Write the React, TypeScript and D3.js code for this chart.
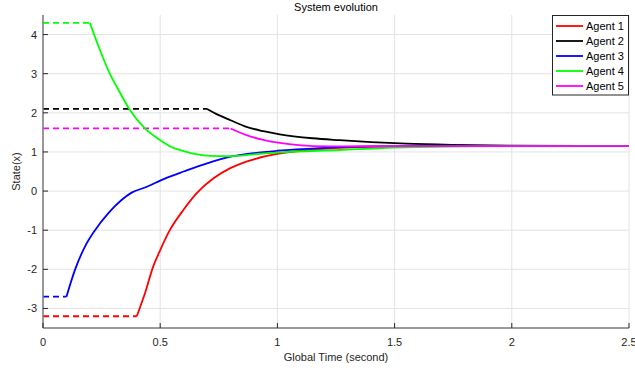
import React, { useEffect, useRef } from "react";
import * as d3 from "d3";

const agentNames = ["Agent 1", "Agent 2", "Agent 3", "Agent 4", "Agent 5"];
const agentColors = ["#ff0000", "#000000", "#0000ff", "#00ff00", "#ff00ff"];
const initialValues = [-3.2, 2.1, -2.7, 4.3, 1.6];
const startTimes = [0.4, 0.7, 0.1, 0.2, 0.8];

const agent1: [number, number][] = [
  [0.4, -3.2], [0.435, -2.61], [0.47, -1.93], [0.5, -1.51], [0.541, -1.0], [0.598, -0.49],
  [0.655, -0.06], [0.726, 0.32], [0.797, 0.58], [0.839, 0.69], [0.9, 0.81], [0.95, 0.89],
  [1.0, 0.95], [1.1, 1.03], [1.2, 1.08], [1.4, 1.13], [1.7, 1.15], [2.5, 1.15],
];
const agent2: [number, number][] = [
  [0.7, 2.1], [0.75, 1.94], [0.8, 1.81], [0.868, 1.64], [0.94, 1.53], [1.01, 1.45],
  [1.15, 1.35], [1.265, 1.3], [1.4, 1.25], [1.55, 1.21], [1.75, 1.18], [2.0, 1.16], [2.5, 1.15],
];
const agent3: [number, number][] = [
  [0.1, -2.7], [0.136, -2.02], [0.179, -1.42], [0.222, -1.0], [0.278, -0.57], [0.335, -0.23],
  [0.378, -0.04], [0.435, 0.09], [0.52, 0.32], [0.6, 0.5], [0.7, 0.71], [0.81, 0.89],
  [0.9, 0.97], [1.0, 1.03], [1.18, 1.1], [1.4, 1.14], [1.7, 1.15], [2.5, 1.15],
];
const agent4: [number, number][] = [
  [0.2, 4.3], [0.24, 3.65], [0.285, 3.0], [0.33, 2.5], [0.371, 2.07], [0.435, 1.6],
  [0.5, 1.3], [0.55, 1.12], [0.6, 1.02], [0.71, 0.9], [0.8, 0.89], [0.9, 0.94],
  [1.01, 0.99], [1.265, 1.05], [1.45, 1.1], [1.65, 1.13], [2.0, 1.15], [2.5, 1.15],
];
const agent5: [number, number][] = [
  [0.8, 1.6], [0.868, 1.43], [0.94, 1.31], [1.01, 1.23], [1.08, 1.18], [1.15, 1.15],
  [1.3, 1.14], [1.6, 1.15], [2.5, 1.15],
];
const agentData = [agent1, agent2, agent3, agent4, agent5];

const xTicks = [0, 0.5, 1, 1.5, 2, 2.5];
const yTicks = [-3, -2, -1, 0, 1, 2, 3, 4];

const W = 635;
const H = 372;
const M = { left: 43, right: 629, top: 15, bottom: 328 };
const FONT = "'Liberation Sans', Arial, Helvetica, sans-serif";

export default function App() {
  const ref = useRef<SVGSVGElement | null>(null);

  useEffect(() => {
    document.body.style.margin = "0";
    const svg = d3.select(ref.current);
    svg.selectAll("*").remove();

    const x = d3.scaleLinear().domain([0, 2.5]).range([M.left, M.right]);
    const y = d3.scaleLinear().domain([-3.5, 4.5]).range([M.bottom, M.top]);

    svg.append("rect").attr("x", 0).attr("y", 0).attr("width", W).attr("height", H).attr("fill", "#fff");

    // grid
    const grid = svg.append("g");
    xTicks.forEach((t) => {
      grid.append("line").attr("x1", x(t)).attr("x2", x(t)).attr("y1", M.top).attr("y2", M.bottom)
        .attr("stroke", "#e3e3e3").attr("stroke-width", 1);
    });
    yTicks.forEach((t) => {
      grid.append("line").attr("x1", M.left).attr("x2", M.right).attr("y1", y(t)).attr("y2", y(t))
        .attr("stroke", "#e3e3e3").attr("stroke-width", 1);
    });

    // lines
    const line = d3.line<[number, number]>().x((d) => x(d[0])).y((d) => y(d[1])).curve(d3.curveMonotoneX);
    const plot = svg.append("g");
    agentData.forEach((data, i) => {
      plot.append("path")
        .attr("d", line([[0, initialValues[i]], [startTimes[i], initialValues[i]]]))
        .attr("fill", "none").attr("stroke", agentColors[i]).attr("stroke-width", 1.8)
        .attr("stroke-dasharray", "6,4");
    });
    agentData.forEach((data, i) => {
      plot.append("path")
        .attr("d", line(data))
        .attr("fill", "none").attr("stroke", agentColors[i]).attr("stroke-width", 1.8);
    });

    // axes
    const axColor = "#262626";
    svg.append("line").attr("x1", M.left).attr("x2", M.left).attr("y1", M.top).attr("y2", M.bottom)
      .attr("stroke", "#7a7a7a").attr("stroke-width", 1.5);
    svg.append("line").attr("x1", M.left).attr("x2", M.right).attr("y1", M.bottom).attr("y2", M.bottom)
      .attr("stroke", "#7a7a7a").attr("stroke-width", 1.5);
    xTicks.forEach((t) => {
      svg.append("line").attr("x1", x(t)).attr("x2", x(t)).attr("y1", M.bottom).attr("y2", M.bottom - 5)
        .attr("stroke", axColor).attr("stroke-width", 1);
      svg.append("text").attr("x", x(t)).attr("y", M.bottom + 18).attr("text-anchor", "middle")
        .attr("font-family", FONT).attr("font-size", 11).attr("fill", axColor).text(String(t));
    });
    yTicks.forEach((t) => {
      svg.append("line").attr("x1", M.left).attr("x2", M.left + 5).attr("y1", y(t)).attr("y2", y(t))
        .attr("stroke", axColor).attr("stroke-width", 1);
      svg.append("text").attr("x", M.left - 6).attr("y", y(t) + 4).attr("text-anchor", "end")
        .attr("font-family", FONT).attr("font-size", 11).attr("fill", axColor).text(String(t));
    });

    // labels
    svg.append("text").attr("x", (M.left + M.right) / 2).attr("y", 11).attr("text-anchor", "middle")
      .attr("font-family", FONT).attr("font-size", 11).attr("fill", "#000").text("System evolution");
    svg.append("text").attr("x", (M.left + M.right) / 2).attr("y", 361).attr("text-anchor", "middle")
      .attr("font-family", FONT).attr("font-size", 11).attr("fill", axColor).text("Global Time (second)");
    svg.append("text").attr("transform", `translate(20,${(M.top + M.bottom) / 2}) rotate(-90)`)
      .attr("text-anchor", "middle").attr("font-family", FONT).attr("font-size", 11).attr("fill", axColor)
      .text("State(x)");

    // legend
    const lg = svg.append("g");
    lg.append("rect").attr("x", 552.5).attr("y", 15.5).attr("width", 76).attr("height", 79.5)
      .attr("fill", "#fff").attr("stroke", "#262626").attr("stroke-width", 1);
    agentNames.forEach((name, i) => {
      const cy = 26 + i * 15;
      lg.append("line").attr("x1", 556).attr("x2", 583).attr("y1", cy).attr("y2", cy)
        .attr("stroke", agentColors[i]).attr("stroke-width", 1.8);
      lg.append("text").attr("x", 586).attr("y", cy + 4).attr("font-family", FONT).attr("font-size", 11)
        .attr("fill", "#000").text(name);
    });
  }, []);

  return (
    <svg ref={ref} width={W} height={H} style={{ position: "absolute", left: 0, top: 0, display: "block" }} />
  );
}
